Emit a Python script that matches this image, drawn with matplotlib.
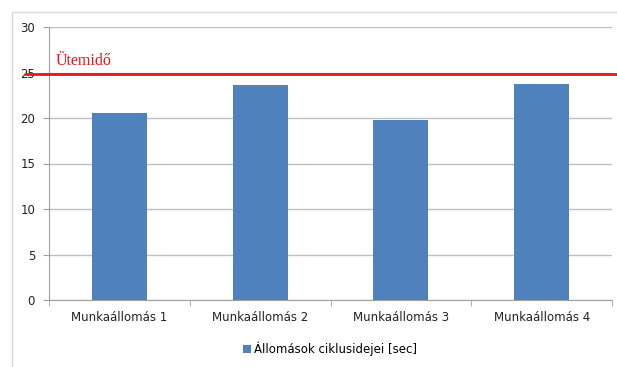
import numpy as np
import matplotlib.pyplot as plt
from matplotlib.patches import Rectangle

# Station cycle times [sec]
STATIONS = ["Munkaállomás 1", "Munkaállomás 2", "Munkaállomás 3", "Munkaállomás 4"]
CYCLE_TIMES = [20.5, 23.6, 19.8, 23.7]
TAKT_TIME = 24.8

BAR_COLOR = "#4f81bd"

fig = plt.figure(figsize=(6.17, 3.67), dpi=100)
fig.patch.set_facecolor("white")

# light outer chart frame (cropped at right/bottom like the reference)
fig.patches.append(Rectangle((12 / 617, -0.05), 1.2, (367 - 12) / 367 + 0.05,
                             transform=fig.transFigure, fill=False,
                             edgecolor="#d9d9d9", linewidth=1.0))

ax = fig.add_axes([49 / 617, 1 - 300 / 367, (612 - 49) / 617, (300 - 27) / 367])

x = np.arange(len(STATIONS))
ax.bar(x, CYCLE_TIMES, width=0.39, color=BAR_COLOR, zorder=3,
       label="Állomások ciklusidejei [sec]")

ax.set_xlim(-0.5, len(STATIONS) - 0.5)
ax.set_ylim(0, 30)
ax.set_yticks(np.arange(0, 31, 5))
ax.tick_params(axis="y", labelsize=8.5, length=4, color="#a0a0a0", pad=6,
               labelcolor="#222222")
ax.set_xticks(x)
ax.set_xticklabels(STATIONS, fontsize=8.5, color="#222222")
ax.tick_params(axis="x", length=0, pad=8)
# minor ticks between categories on x axis
ax.set_xticks(np.arange(-0.5, len(STATIONS)), minor=True)
ax.tick_params(axis="x", which="minor", length=4, color="#a0a0a0")

ax.grid(axis="y", color="#bfbfbf", linewidth=1.0, zorder=0)
for side in ["top", "right"]:
    ax.spines[side].set_visible(False)
for side in ["left", "bottom"]:
    ax.spines[side].set_color("#a0a0a0")

# takt time line, running past the plot area
ax.plot([-0.04, 1.02], [TAKT_TIME, TAKT_TIME], color="#e8141b", linewidth=2,
        transform=ax.get_yaxis_transform(), clip_on=False, zorder=4)
ax.text(-0.45, TAKT_TIME + 0.6, "Ütemidő", color="#e8141b", fontsize=11.5,
        family="Liberation Serif", ha="left", va="bottom")

fig.legend(loc="lower center", bbox_to_anchor=(0.535, 0.0), frameon=False,
           fontsize=8.5, handlelength=0.7, handleheight=0.7, handletextpad=0.3)

fig.savefig("out.png", dpi=100)
